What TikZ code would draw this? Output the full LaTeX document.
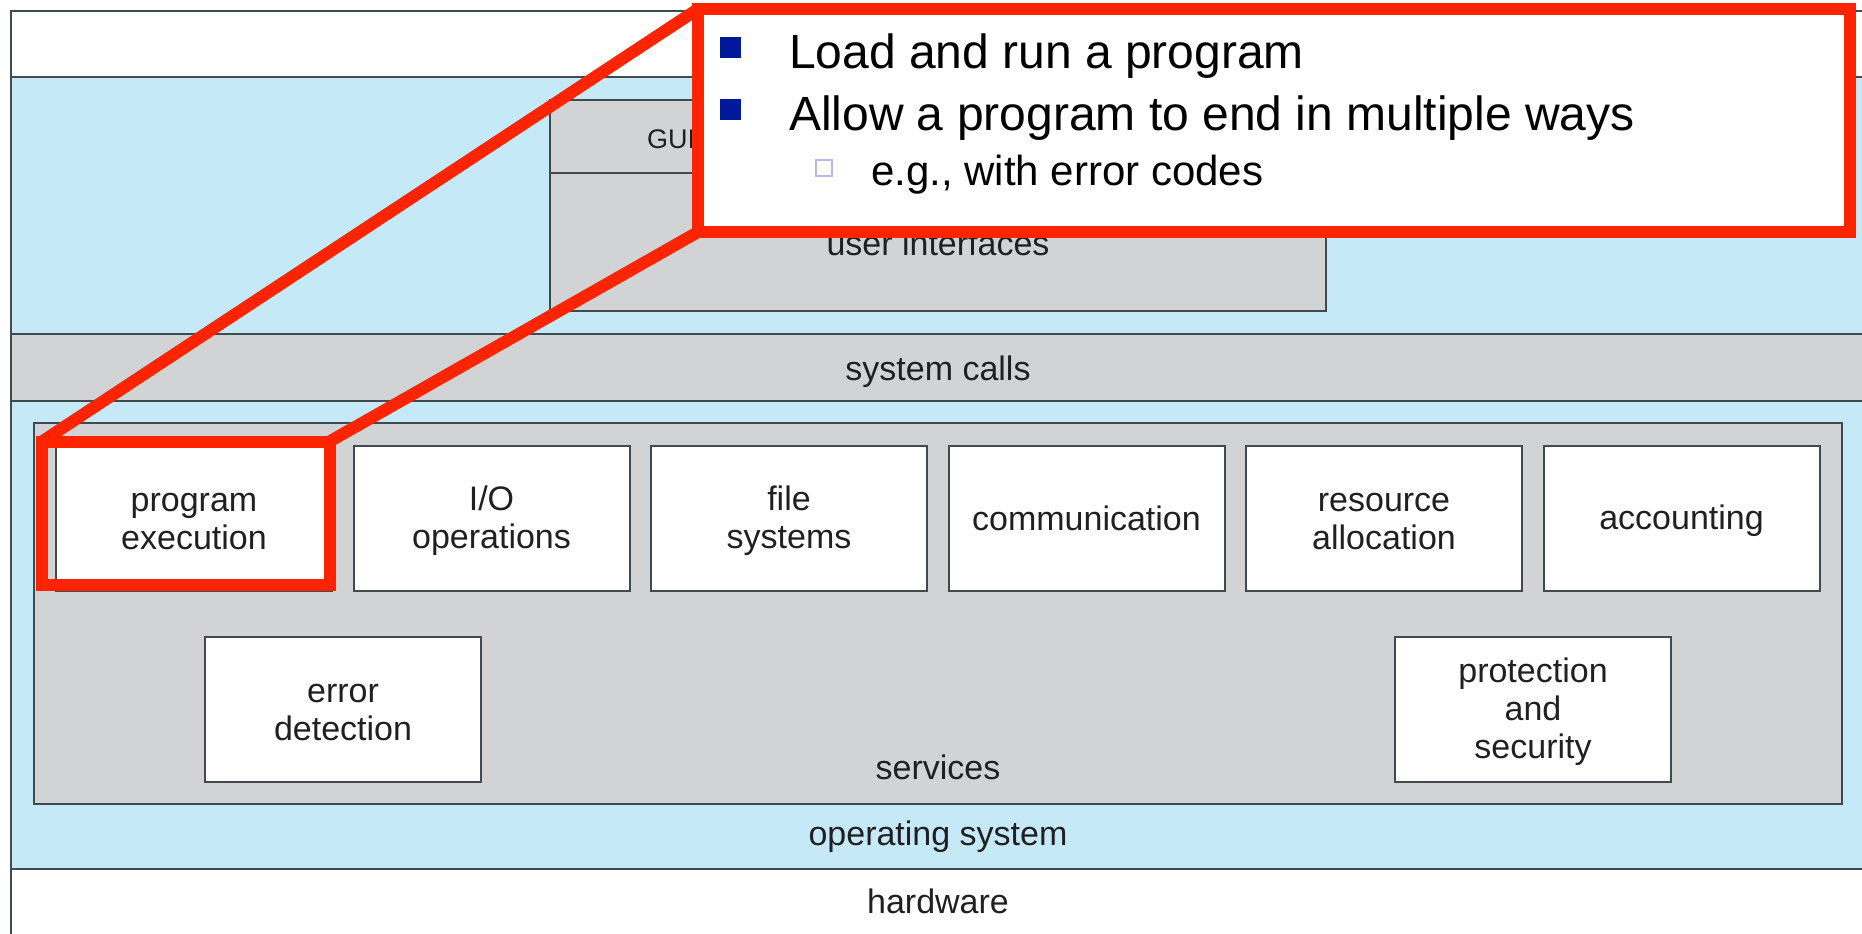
\documentclass[tikz,border=0pt]{standalone}
\usepackage{fontspec}
\setmainfont{Liberation Sans}
\definecolor{osblue}{HTML}{C6E9F8}
\definecolor{layergray}{HTML}{D1D3D4}
\definecolor{edge}{HTML}{404A4F}
\definecolor{hired}{HTML}{FF2400}
\definecolor{navy}{HTML}{00199A}
\definecolor{lav}{HTML}{B8B8E0}
\definecolor{ink}{HTML}{202020}
% struts that fix the first line's top and the last line's bottom
\newcommand\tp{\rule{0pt}{15pt}}
\newcommand\bt{\rule[-3pt]{0pt}{3pt}}

\begin{document}
\begin{tikzpicture}[x=0.5pt,y=-0.5pt,
  svc/.style={draw=edge, line width=1pt, fill=white, minimum width=138pt,
    minimum height=72.5pt, inner sep=0pt, outer sep=0pt, align=center,
    text=ink, font=\fontsize{17pt}{19pt}\selectfont},
  lbl/.style={inner sep=0pt, outer sep=0pt, text=ink,
    font=\fontsize{17pt}{19pt}\selectfont, anchor=base},
  layer/.style={draw=edge, line width=1pt},
  hlbox/.style={draw=hired, line width=6pt, inner sep=0pt, outer sep=0pt},
  zoomline/.style={draw=hired, line width=6pt, line cap=round},
  bigitem/.style={anchor=base west, inner sep=0pt, outer sep=0pt,
    font=\fontsize{24pt}{28pt}\selectfont},
  subitem/.style={anchor=base west, inner sep=0pt, outer sep=0pt,
    font=\fontsize{21pt}{25pt}\selectfont}
]
\useasboundingbox (0,0) rectangle (1862,933);
\clip (0,0) rectangle (1862,933);
\fill[white] (0,0) rectangle (1862,933);

% layers of the system
\draw[layer, fill=white] (11,11) rectangle (1890,77);
\draw[layer, fill=osblue] (11,77) rectangle (1890,869);
\draw[layer, fill=layergray] (11,334) rectangle (1890,401);
\draw[layer, fill=white] (11,869) rectangle (1890,960);

% user interfaces
\draw[layer, fill=layergray] (550,100) rectangle (1326,311);
\draw[layer] (550,173) -- (1326,173);
\node[lbl, anchor=base west, font=\fontsize{13.5pt}{15pt}\selectfont] (gui) at (647,148) {GUI};
\node[lbl] (ui) at (938,255) {user interfaces};

\node[lbl] (sc) at (938,380) {system calls};

% services
\draw[layer, fill=layergray] (34,423) rectangle (1842,804);
\node[svc] (pe) at (194,518.5) {\tp program\\execution\bt};
\node[svc] (io) at (491.5,518.5) {\tp I/O\\operations\bt};
\node[svc] (fs) at (789,518.5) {\tp file\\systems\bt};
\node[svc] (cm) at (1086.5,518.5) {\tp communication\bt};
\node[svc] (ra) at (1384,518.5) {\tp resource\\allocation\bt};
\node[svc] (ac) at (1681.5,518.5) {\tp accounting\bt};
\node[svc] (ed) at (343,709.5) {\tp error\\detection\bt};
\node[svc] (ps) at (1533,709.5) {\tp protection\\and\\security\bt};
\node[lbl] (sv) at (938,779) {services};

\node[lbl] (os) at (938,845) {operating system};
\node[lbl] (hw) at (938,913) {hardware};

% callout
\node[hlbox, fill=white, minimum width=576pt, minimum height=111.5pt] (callout) at (1274,120.5) {};
\fill[navy] (720,37) rectangle (741,58);
\node[bigitem] (l1) at (789,68) {Load and run a program};
\fill[navy] (720,99) rectangle (741,120);
\node[bigitem] (l2) at (789,130) {Allow a program to end in multiple ways};
\draw[lav, line width=0.8pt, fill=white] (816,160) rectangle (832,176);
\node[subitem] (l3) at (871,185) {e.g., with error codes};

% highlight on program execution
\node[hlbox, minimum width=143.75pt, minimum height=71.75pt] (hl) at (185.75,513.25) {};

% zoom lines
\draw[zoomline] (callout.north west) -- (hl.north west);
\draw[zoomline] (callout.south west) -- (hl.north east);
\end{tikzpicture}
\end{document}
